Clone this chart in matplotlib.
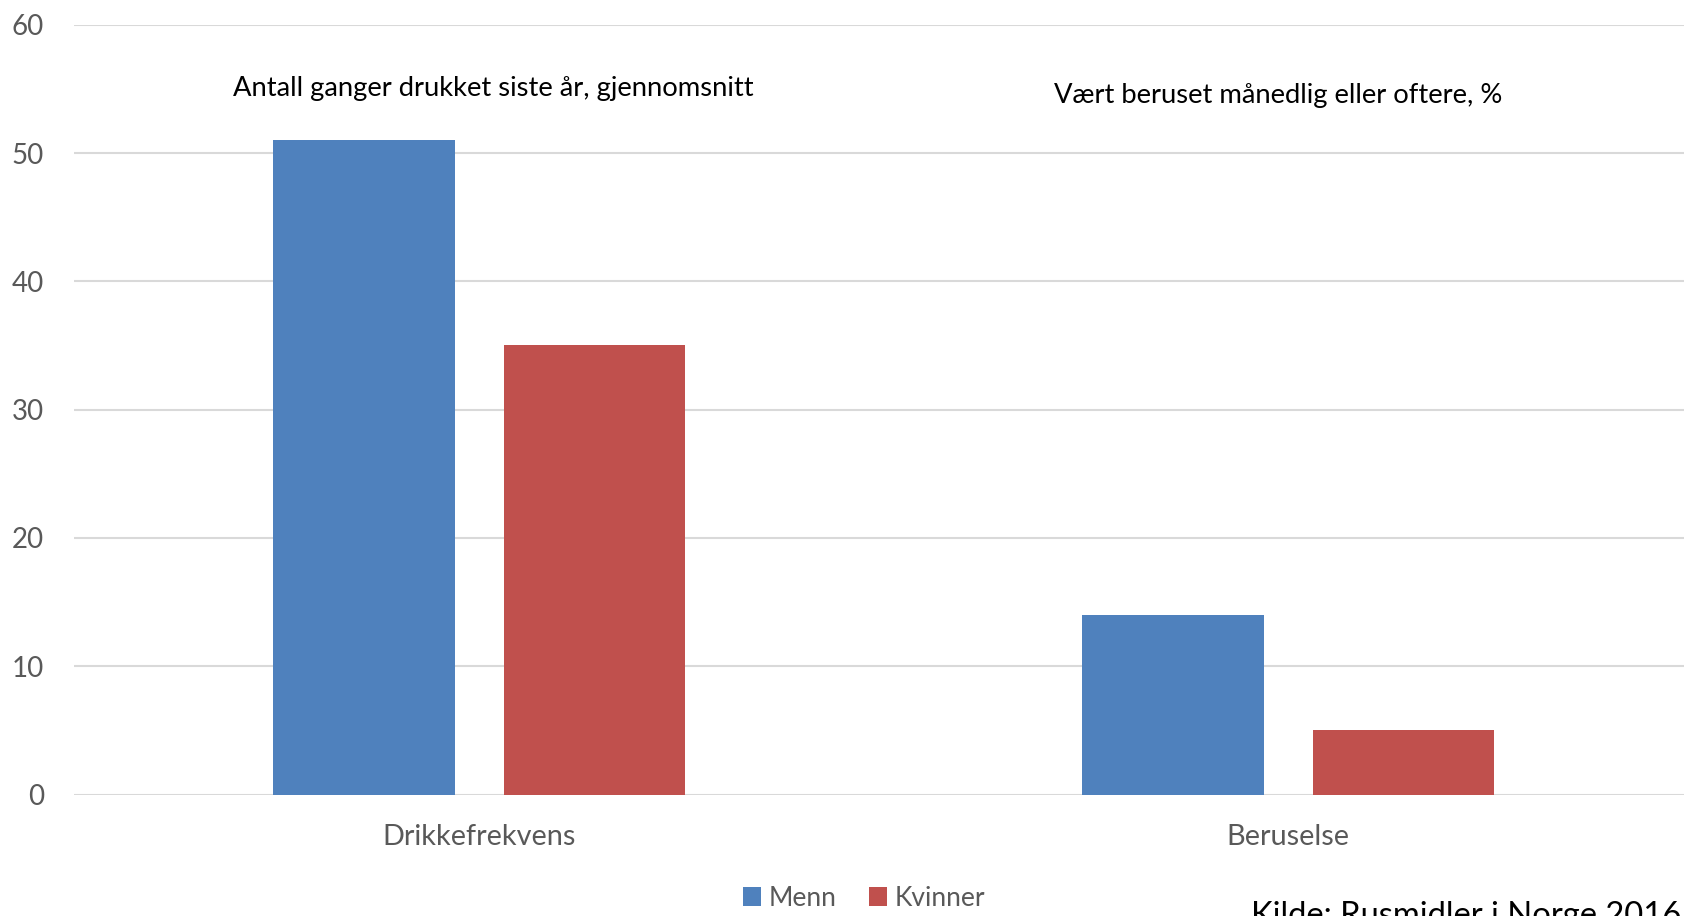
import numpy as np
import matplotlib
matplotlib.use('Agg')
from matplotlib import pyplot as plt

# data
categories = ['Drikkefrekvens', 'Beruselse']
menn = [51, 14]
kvinner = [35, 5]
notes = ['Antall ganger drukket siste år, gjennomsnitt', 'Vært beruset månedlig eller oftere, %']
yticks = [0, 10, 20, 30, 40, 50, 60]

plt.rcParams['font.family'] = ['Lato', 'DejaVu Sans']

fig = plt.figure(figsize=(16.84, 9.16), dpi=100)
# plot area runs a bit past the right edge, like the reference
ax = fig.add_axes([74.4 / 1684, 1 - 794.5 / 916, 1618.6 / 1684, (794.5 - 24.7) / 916])

x = np.arange(len(categories))
w = 0.2243
off = w / 2 + 0.0303
ax.bar(x - off, menn, w, color='#4F81BD', label='Menn', zorder=3)
ax.bar(x + off, kvinner, w, color='#C0504D', label='Kvinner', zorder=3)

ax.set_xlim(-0.5, 1.5)
ax.set_ylim(0, 60)
ax.set_yticks(yticks)
ax.set_xticks(x)
ax.set_xticklabels(categories)
ax.grid(axis='y', color='#d9d9d9', linewidth=1.5, zorder=0)
for s in ax.spines.values():
    s.set_visible(False)
ax.tick_params(axis='y', length=0, pad=22, labelsize=20, labelcolor='#595959')
ax.tick_params(axis='x', length=0, pad=21, labelsize=20.8, labelcolor='#595959')

# notes above each group
ax.text(0.018, 55.0, notes[0], ha='center', va='center', fontsize=19.7, color='black')
ax.text(0.988, 54.5, notes[1], ha='center', va='center', fontsize=19.7, color='black')

fig.legend(loc='center', bbox_to_anchor=(864 / 1684, 1 - 898 / 916), ncol=2, frameon=False,
           fontsize=19, labelcolor='#595959', handlelength=0.7, handleheight=0.7,
           handletextpad=0.3, columnspacing=1.2)

# source line, cut off by the bottom edge as in the reference
fig.text(1251 / 1684, 1 - 901 / 916, 'Kilde: Rusmidler i Norge 2016', ha='left', va='top',
         fontsize=23.6, color='black')

fig.savefig('out.png', dpi=100)
